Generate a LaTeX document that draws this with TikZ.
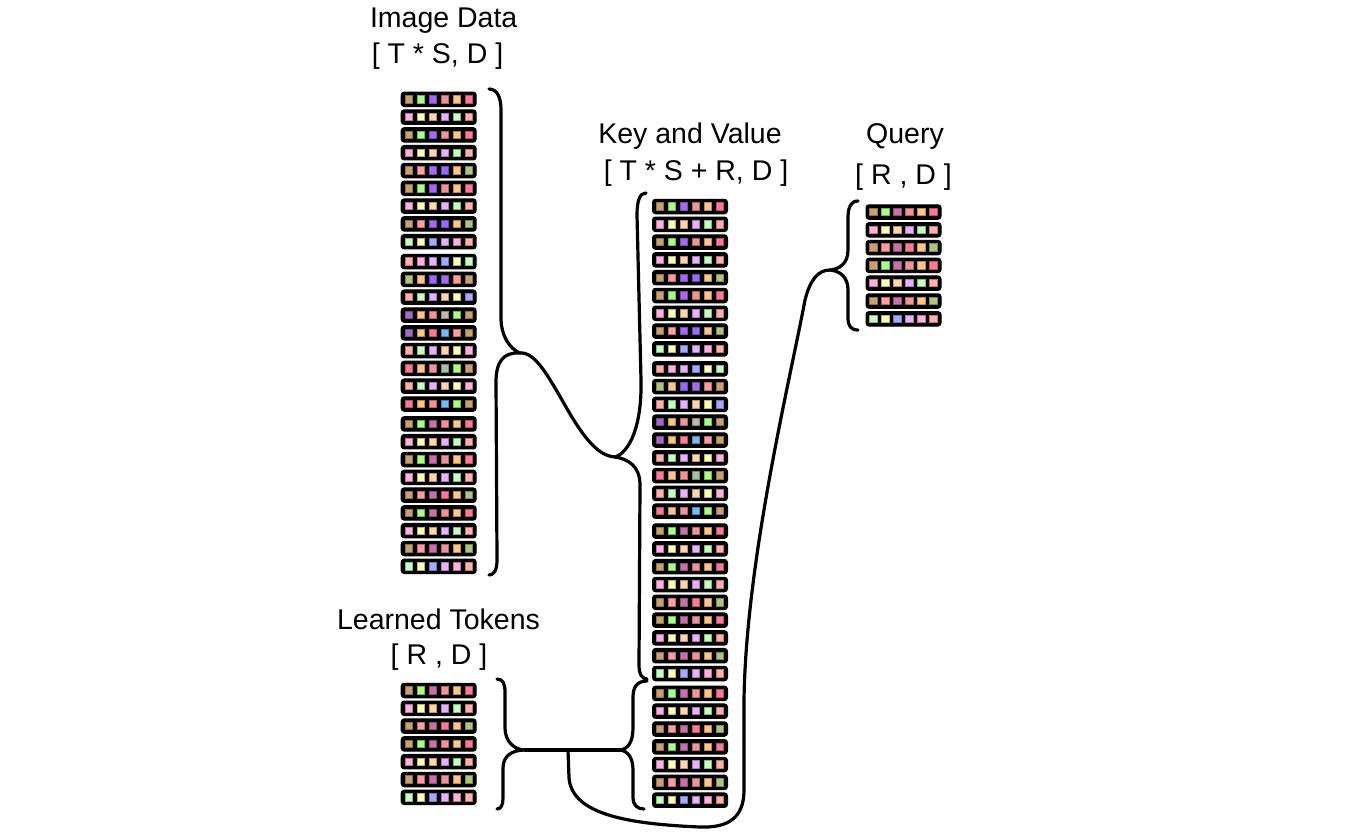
\documentclass[tikz,border=0pt]{standalone}
\usepackage{fontspec}
\setmainfont{Liberation Sans}
\definecolor{cTan}{HTML}{C9A070}
\definecolor{cGrn}{HTML}{A8FF84}
\definecolor{cPur}{HTML}{A868F4}
\definecolor{cSal}{HTML}{F2939C}
\definecolor{cPch}{HTML}{FFC488}
\definecolor{cHot}{HTML}{FF7898}
\definecolor{cPkL}{HTML}{FFB0E0}
\definecolor{cYel}{HTML}{FFFFB4}
\definecolor{cPcL}{HTML}{FFD4B0}
\definecolor{cLav}{HTML}{E8B0FF}
\definecolor{cMnt}{HTML}{C4FFC0}
\definecolor{cSaL}{HTML}{FFB0A8}
\definecolor{cPnk}{HTML}{FF9CA4}
\definecolor{cVio}{HTML}{9868FF}
\definecolor{cOlv}{HTML}{B0C47C}
\definecolor{cLbl}{HTML}{A8A8FF}
\definecolor{cMau}{HTML}{C870A8}
\definecolor{cMpu}{HTML}{A868C8}
\definecolor{cTau}{HTML}{C8B8A8}
\definecolor{cSky}{HTML}{78B8FF}
\definecolor{cSag}{HTML}{A0C4A0}
\def\pA{cTan,cGrn,cPur,cSal,cPch,cHot}
\def\pB{cPkL,cYel,cPcL,cLav,cMnt,cSaL}
\def\pC{cTan,cPnk,cPur,cVio,cPch,cOlv}
\def\pD{cMnt,cYel,cLbl,cLav,cPkL,cSaL}
\def\pE{cSaL,cPkL,cLav,cLbl,cYel,cMnt}
\def\pJ{cOlv,cPch,cVio,cPur,cPnk,cTan}
\def\pK{cSaL,cMnt,cLav,cPcL,cYel,cLbl}
\def\pL{cMpu,cPch,cSal,cTau,cGrn,cTan}
\def\pM{cMpu,cPch,cHot,cSky,cPnk,cTan}
\def\pN{cSaL,cMnt,cLav,cPcL,cYel,cPkL}
\def\pO{cHot,cPch,cSal,cSag,cGrn,cTan}
\def\pP{cHot,cPch,cSal,cSky,cGrn,cTan}
\def\pF{cTan,cGrn,cMau,cSal,cPch,cHot}
\def\pG{cTan,cPnk,cMau,cHot,cPch,cOlv}
\def\pH{cTan,cPnk,cMau,cSal,cPch,cOlv}
\newcommand\tokrow[4]{%
  \node[rowbox] (#1) at (#2,#3) {};
  \edef\tmplist{\csname p#4\endcsname}%
  \foreach \sqc [count=\k from 0] in \tmplist {
    \node[sq, fill=\sqc, draw=\sqc!70!black] at ({#2+(\k-2.5)*12},#3) {};
  }%
}
\tikzset{
  rowbox/.style={fill=black, draw=black, line width=1pt, rounded corners=3pt, minimum width=75pt, minimum height=14.5pt, inner sep=0pt},
  sq/.style={minimum size=7.4pt, inner sep=0pt, line width=0.9pt},
  brc/.style={draw=black, line width=3.2pt, line cap=round, line join=round},
  lbl/.style={font=\fontsize{28.5}{34}\selectfont, anchor=base, inner sep=0pt},
}
\begin{document}
\begin{tikzpicture}[x=1pt,y=-1pt]
\useasboundingbox (0,0) rectangle (1346,836);
% labels
\node[lbl] (t-img) at (443.7,27.3) {Image Data};
\node[lbl] (t-imgd) at (437.5,63.3) {[ T * S, D ]};
\node[lbl] (t-kv) at (690,143.3) {Key and Value};
\node[lbl] (t-kvd) at (696,180) {[ T * S + R, D ]};
\node[lbl] (t-q) at (905,143.3) {Query};
\node[lbl] (t-qd) at (903.5,184.5) {[ R , D ]};
\node[lbl] (t-lt) at (438.5,629) {Learned Tokens};
\node[lbl] (t-ltd) at (439,664.5) {[ R , D ]};
% image data
\foreach \p [count=\i from 0] in {A,B,A,B,C,A,B,C,D,E,J,K,L,M,N,O,N,P,F,B,F,B,G,F,B,H,D} {
  \pgfmathsetmacro\yy{99.3+floor(\i/9)*162.3+mod(\i,9)*17.8}
  \tokrow{img-\i}{438.7}{\yy}{\p}
}
% key and value
\foreach \p [count=\i from 0] in {A,B,A,B,C,A,B,C,D,E,J,K,L,M,N,O,N,P,F,B,F,B,G,F,B,H,D,F,B,G,F,B,H,D} {
  \pgfmathsetmacro\yy{206.5+floor(\i/9)*162.3+mod(\i,9)*17.8}
  \tokrow{kv-\i}{690}{\yy}{\p}
}
% learned tokens
\foreach \p [count=\i from 0] in {F,B,G,F,B,H,D} {
  \pgfmathsetmacro\yy{690.5+\i*17.8}
  \tokrow{lt-\i}{438.7}{\yy}{\p}
}
% query
\foreach \p [count=\i from 0] in {F,B,G,F,B,H,D} {
  \pgfmathsetmacro\yy{212+\i*17.8}
  \tokrow{q-\i}{903.5}{\yy}{\p}
}
% brace tips
\coordinate (imgtip) at (520,353);
\coordinate (kvtip) at (615,457);
\coordinate (lttip) at (525,750);
\coordinate (kvltip) at (620,750);
\coordinate (qtip) at (830,270);
\coordinate (jn) at (568,750);
% braces
\draw[brc] (489,89) .. controls (497,89) and (501,97) .. (501,110) -- (501,318)
  .. controls (501,336) and (510,349) .. (imgtip)
  .. controls (503,352) and (496,362) .. (496,382) -- (497,560)
  .. controls (497,570) and (494,575) .. (489,575);
\draw[brc] (646,193) .. controls (640,193) and (637,200) .. (637,215) -- (641,380)
  .. controls (642,425) and (630,452) .. (kvtip)
  .. controls (628,459) and (640,466) .. (640,485) -- (639,665)
  .. controls (639,674) and (642,679) .. (647,679);
\draw[brc] (497,679) .. controls (503,679) and (505,684) .. (505,692) -- (505,728)
  .. controls (505,742) and (515,750) .. (lttip)
  .. controls (512,750) and (503,756) .. (503,768) -- (503,798)
  .. controls (503,805) and (501,809) .. (497,809);
\draw[brc] (647,681) .. controls (638,681) and (633,686) .. (633,697) -- (633,728)
  .. controls (633,742) and (628,749) .. (kvltip)
  .. controls (628,751) and (633,758) .. (633,770) -- (633,797)
  .. controls (633,805) and (637,809) .. (644,809);
\draw[brc] (858,201) .. controls (851,201) and (848,207) .. (848,218) -- (848,250)
  .. controls (848,263) and (840,269) .. (qtip)
  .. controls (840,271) and (848,277) .. (848,290) -- (848,318)
  .. controls (848,326) and (851,330) .. (858,330);
% connectors
\draw[brc] (imgtip) .. controls (550,350) and (575,455) .. (kvtip);
\draw[brc] (lttip) -- (kvltip);
\draw[brc] (jn) -- (569,778) .. controls (572,815) and (630,824) .. (700,827)
  .. controls (728,828) and (744,818) .. (744,790) -- (744,700)
  .. controls (746,560) and (790,380) .. (805,300)
  .. controls (810,280) and (818,270) .. (qtip);
\end{tikzpicture}
\end{document}
